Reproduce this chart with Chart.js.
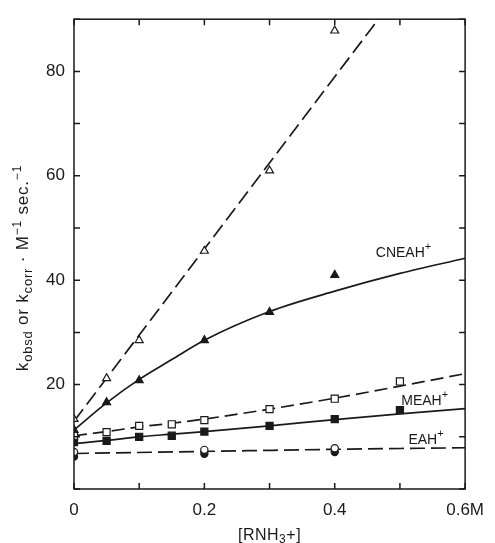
<!DOCTYPE html>
<html>
<head>
<meta charset="utf-8">
<script src="https://cdn.jsdelivr.net/npm/chart.js@4/dist/chart.umd.min.js"></script>
<style>
  body { margin: 0; background: #fff; }
  canvas { display: block; }
</style>
</head>
<body>
<canvas id="rateChart" width="495" height="543"></canvas>
<script>
// concentrations (M) where each ion was measured
const triX = [0, 0.05, 0.1, 0.2, 0.3, 0.4]
const sqX = [0, 0.05, 0.1, 0.15, 0.2, 0.3, 0.4, 0.5]
const circX = [0, 0.2, 0.4]

// measured rate constants, open = k_obsd, filled = k_corr
const cneahObsd = [13.4, 21.2, 28.5, 45.6, 61.0, 87.8]
const cneahCorr = [11.3, 16.6, 20.8, 28.5, 33.9, 41.0]
const meahObsd = [10.2, 10.9, 12.1, 12.4, 13.2, 15.3, 17.3, 20.6]
const meahCorr = [9.0, 9.2, 10.0, 10.2, 11.0, 12.1, 13.4, 15.1]
const eahObsd = [7.1, 7.5, 7.8]
const eahCorr = [6.2, 6.75, 7.1]

// drawn-through curves
const fitSteepX = [0, 0.47]
const fitCneahObsd = [13.0, 90.5]
const fitX = [0, 0.05, 0.1, 0.15, 0.2, 0.3, 0.4, 0.5, 0.6]
const fitCneahCorr = [11.3, 16.5, 21.0, 24.8, 28.5, 34.0, 37.9, 41.3, 44.2]
const fitMeahObsd = [10.2, 11.0, 11.9, 12.6, 13.4, 15.3, 17.4, 19.7, 22.1]
const fitMeahCorr = [8.7, 9.3, 10.0, 10.5, 11.0, 12.1, 13.3, 14.4, 15.4]
const fitEahX = [0, 0.2, 0.4, 0.6]
const fitEah = [6.8, 7.2, 7.6, 7.9]

// axis labelling
const xLabelled = [0, 0.2, 0.4, 0.6]
const xLabelText = ['0', '0.2', '0.4', '0.6M']
const yLabelled = [20, 40, 60, 80]

const ink = '#1a1a1a'
const face = 'Liberation Sans, Arial, sans-serif'

function pts(xs, ys) {
  return xs.map((x, i) => ({x: x, y: ys[i]}))
}

function curve(xs, ys, dash) {
  return {
    data: pts(xs, ys), showLine: true, pointRadius: 0, borderColor: ink,
    borderWidth: 1.7, borderDash: dash, cubicInterpolationMode: 'monotone', order: 2
  }
}

function marks(xs, ys, style, filled, r) {
  return {
    data: pts(xs, ys), showLine: false, pointStyle: style, pointRadius: r,
    pointBorderColor: ink, pointBackgroundColor: filled ? ink : '#fff',
    pointBorderWidth: 1.2, order: 1
  }
}

// draws text pieces left to right, with sub/superscripts
function runText(ctx, parts, x, y, gap) {
  let cx = x
  ctx.letterSpacing = (gap || 0) + 'px'
  for (const p of parts) {
    ctx.font = p.size + 'px ' + face
    ctx.fillText(p.t, cx, y + (p.dy || 0))
    cx += ctx.measureText(p.t).width
  }
  ctx.letterSpacing = '0px'
}

function runWidth(ctx, parts, gap) {
  let w = 0
  ctx.letterSpacing = (gap || 0) + 'px'
  for (const p of parts) {
    ctx.font = p.size + 'px ' + face
    w += ctx.measureText(p.t).width
  }
  ctx.letterSpacing = '0px'
  return w
}

const yTitle = [
  {t: 'k', size: 17}, {t: 'obsd', size: 13, dy: 4}, {t: ' or ', size: 17},
  {t: 'k', size: 17}, {t: 'corr', size: 13, dy: 4}, {t: ' \u00b7 M', size: 17},
  {t: '\u22121', size: 12, dy: -7}, {t: ' sec.', size: 17}, {t: '\u22121', size: 12, dy: -7}
]
const xTitle = [
  {t: '[RNH', size: 16}, {t: '3', size: 12, dy: 3}, {t: '+]', size: 16}
]

const curveLabels = [
  {parts: [{t: 'CNEAH', size: 14}, {t: '+', size: 11, dy: -7}], x: 0.463, y: 44.5},
  {parts: [{t: 'MEAH', size: 14}, {t: '+', size: 11, dy: -7}], x: 0.502, y: 16.1},
  {parts: [{t: 'EAH', size: 14}, {t: '+', size: 11, dy: -7}], x: 0.513, y: 8.7}
]

const framePlugin = {
  id: 'framePlugin',
  afterDraw(chart) {
    const {ctx, chartArea: a, scales: {x, y}} = chart
    ctx.save()
    ctx.strokeStyle = ink
    ctx.lineWidth = 1.5
    ctx.strokeRect(a.left, a.top, a.right - a.left, a.bottom - a.top)
    ctx.beginPath()
    x.ticks.forEach(t => {
      const px = x.getPixelForValue(t.value)
      ctx.moveTo(px, a.bottom); ctx.lineTo(px, a.bottom - 6)
      ctx.moveTo(px, a.top); ctx.lineTo(px, a.top + 6)
    })
    y.ticks.forEach(t => {
      const py = y.getPixelForValue(t.value)
      ctx.moveTo(a.left, py); ctx.lineTo(a.left + 6, py)
      ctx.moveTo(a.right, py); ctx.lineTo(a.right - 6, py)
    })
    ctx.stroke()

    ctx.fillStyle = ink
    ctx.textBaseline = 'alphabetic'
    ctx.textAlign = 'left'
    curveLabels.forEach(l => {
      runText(ctx, l.parts, x.getPixelForValue(l.x), y.getPixelForValue(l.y))
    })

    // x axis title
    const xw = runWidth(ctx, xTitle, 0.5)
    runText(ctx, xTitle, (a.left + a.right) / 2 - xw / 2, 540, 0.5)

    // rotated y axis title
    ctx.translate(28, 268)
    ctx.rotate(-Math.PI / 2)
    const yw = runWidth(ctx, yTitle, 0.8)
    runText(ctx, yTitle, -yw / 2, 0, 0.8)
    ctx.restore()
  }
}

new Chart(document.getElementById('rateChart').getContext('2d'), {
  type: 'scatter',
  data: {
    datasets: [
      curve(fitSteepX, fitCneahObsd, [15, 6]),
      curve(fitX, fitCneahCorr, []),
      curve(fitX, fitMeahObsd, [13, 6]),
      curve(fitX, fitMeahCorr, []),
      curve(fitEahX, fitEah, [15, 6]),
      marks(triX, cneahObsd, 'triangle', false, 4.6),
      marks(triX, cneahCorr, 'triangle', true, 4.6),
      marks(sqX, meahObsd, 'rect', false, 5),
      marks(sqX, meahCorr, 'rect', true, 5),
      marks(circX, eahObsd, 'circle', false, 3.6),
      marks(circX, eahCorr, 'circle', true, 3.6)
    ]
  },
  options: {
    responsive: false,
    animation: false,
    devicePixelRatio: 1,
    layout: {padding: {left: 0, top: 15, right: 28, bottom: 0}},
    plugins: {legend: {display: false}, tooltip: {enabled: false}},
    scales: {
      x: {
        type: 'linear', min: 0, max: 0.6,
        grid: {display: false, drawTicks: false},
        border: {display: false},
        afterFit: s => { s.height = 54 },
        ticks: {
          stepSize: 0.1, padding: 11, color: ink, maxRotation: 0, autoSkip: false,
          font: {family: face, size: 17},
          callback: v => {
            const i = xLabelled.findIndex(p => Math.abs(p - v) < 1e-6)
            return i < 0 ? '' : xLabelText[i]
          }
        }
      },
      y: {
        type: 'linear', min: 0, max: 90,
        grid: {display: false, drawTicks: false},
        border: {display: false},
        afterFit: s => { s.width = 74 },
        ticks: {
          stepSize: 10, padding: 9, color: ink,
          font: {family: face, size: 17},
          callback: v => yLabelled.includes(v) ? String(v) : ''
        }
      }
    }
  },
  plugins: [framePlugin]
});
</script>
</body>
</html>
